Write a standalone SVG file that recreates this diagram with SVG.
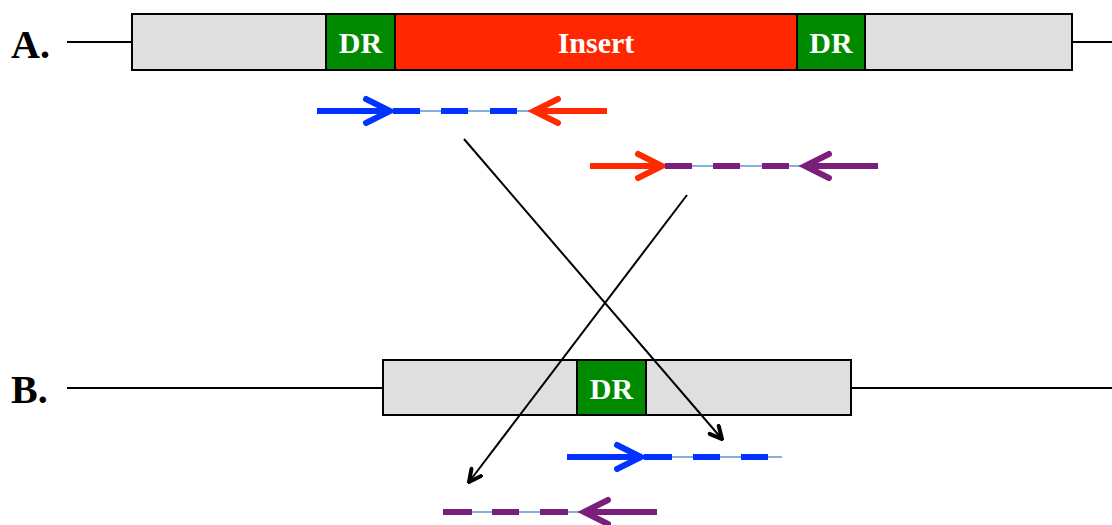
<svg xmlns="http://www.w3.org/2000/svg" width="1112" height="525" viewBox="0 0 1112 525">
<style>
.bb{fill:#dfdfdf;stroke:#000;stroke-width:2}
.dr{fill:#008a00;stroke:#000;stroke-width:2}
.ins{fill:#ff2600;stroke:#000;stroke-width:2}
.t{font-family:"Liberation Serif",serif;font-weight:bold;fill:#fff;font-size:30px;text-anchor:middle}
.lab{font-family:"Liberation Serif",serif;font-weight:bold;fill:#000;font-size:40px}
.ln{stroke:#000;stroke-width:2;fill:none}
.thin{stroke:#5f95d0;stroke-width:1.3}
.blue{stroke:#0033ff;stroke-width:6;fill:none;stroke-linecap:butt}
.red{stroke:#ff2a00;stroke-width:6;fill:none}
.pur{stroke:#7a1f7a;stroke-width:6;fill:none}
.hd{stroke-linecap:round;stroke-linejoin:miter}
</style>
<defs>
<marker id="ah" viewBox="0 0 16 16" refX="14" refY="8" markerWidth="16" markerHeight="16" markerUnits="userSpaceOnUse" orient="auto">
<path d="M2,2 L14,8 L2,14" fill="none" stroke="#000" stroke-width="4" stroke-linecap="round"/>
</marker>
</defs>
<g id="rowA">
<text class="lab" x="11" y="58">A.</text>
<line class="ln" x1="67" y1="42" x2="132" y2="42"/>
<line class="ln" x1="1072" y1="42" x2="1112" y2="42"/>
<rect class="bb" x="132" y="14" width="940" height="56"/>
<g id="drA1"><rect class="dr" x="326" y="14" width="69" height="56"/><text class="t" x="360.5" y="53">DR</text></g>
<g id="insert"><rect class="ins" x="395" y="14" width="402" height="56"/><text class="t" x="596" y="53" font-size="28">Insert</text></g>
<g id="drA2"><rect class="dr" x="797" y="14" width="68" height="56"/><text class="t" x="831" y="53">DR</text></g>
</g>
<g id="rowB">
<text class="lab" x="11" y="403">B.</text>
<line class="ln" x1="67" y1="388" x2="383" y2="388"/>
<line class="ln" x1="851" y1="388" x2="1112" y2="388"/>
<rect class="bb" x="383" y="360" width="468" height="55"/>
<g id="drB"><rect class="dr" x="577" y="360" width="69" height="55"/><text class="t" x="611.5" y="399">DR</text></g>
</g>
<g id="primer1">
<line class="thin" x1="392" y1="111" x2="532" y2="111"/>
<line class="blue" x1="317" y1="111" x2="390" y2="111"/>
<path class="blue hd" d="M366,99 L390,111 L366,123"/>
<path class="blue" d="M393,111 H420 M441,111 H468 M490,111 H517"/>
<line class="red" x1="536" y1="111" x2="607" y2="111"/>
<path class="red hd" d="M558,99 L534,111 L558,123"/>
</g>
<g id="primer2">
<line class="thin" x1="663" y1="166" x2="803" y2="166"/>
<line class="red" x1="590" y1="166" x2="661" y2="166"/>
<path class="red hd" d="M638,154 L662,166 L638,178"/>
<path class="pur" d="M665,166 H692 M713,166 H740 M762,166 H789"/>
<line class="pur" x1="806" y1="166" x2="878" y2="166"/>
<path class="pur hd" d="M829,154 L805,166 L829,178"/>
</g>
<g id="primer3">
<line class="thin" x1="642" y1="457" x2="782" y2="457"/>
<line class="blue" x1="567" y1="457" x2="640" y2="457"/>
<path class="blue hd" d="M617,445 L641,457 L617,469"/>
<path class="blue" d="M644,457 H672 M693,457 H720 M741,457 H768"/>
</g>
<g id="primer4">
<line class="thin" x1="443" y1="512" x2="582" y2="512"/>
<path class="pur" d="M443,512 H472 M492,512 H519 M540,512 H568"/>
<line class="pur" x1="585" y1="512" x2="657" y2="512"/>
<path class="pur hd" d="M608,500 L584,512 L608,524"/>
</g>
<g id="connectors">
<line class="ln" x1="464" y1="139" x2="722" y2="439" marker-end="url(#ah)"/>
<line class="ln" x1="687" y1="195" x2="469" y2="482" marker-end="url(#ah)"/>
</g>
</svg>
